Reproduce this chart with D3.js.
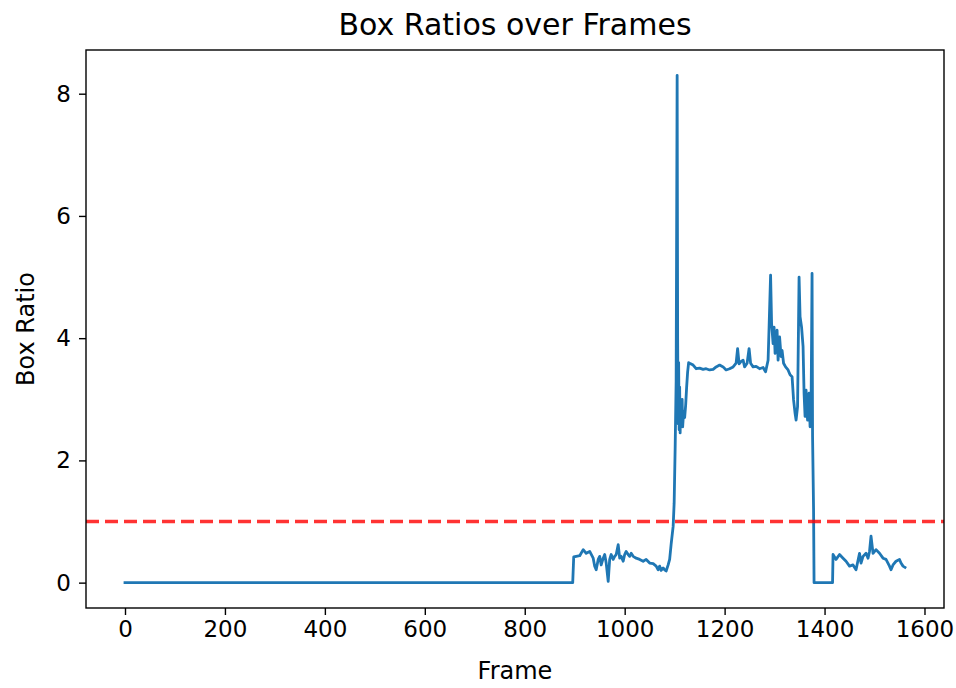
<!DOCTYPE html>
<html>
<head>
<meta charset="utf-8">
<script src="https://cdn.jsdelivr.net/npm/d3@7"></script>
<style>
  body { margin: 0; background: #fff; }
  text { font-family: "DejaVu Sans", sans-serif; fill: #000; }
</style>
</head>
<body>
<div id="chart"></div>
<script>
// Frame numbers (sampled where the curve changes) and the box ratio read at each
const frames = [0, 896, 898, 903, 910, 917, 923, 930, 937, 940, 943, 947, 950, 953, 957, 960, 963, 967, 970,
  973, 977, 980, 983, 987, 990, 993, 997, 1000, 1003, 1007, 1010, 1013, 1017, 1023, 1030, 1037, 1043, 1050,
  1057, 1063, 1067, 1070, 1073, 1077, 1080, 1083, 1087, 1090, 1093, 1097, 1099, 1101, 1103, 1105, 1106, 1107,
  1108, 1109, 1110, 1111, 1112, 1113, 1115, 1116, 1118, 1120, 1122, 1124, 1126, 1128,
  1130, 1137, 1143, 1150, 1157, 1163, 1170, 1177, 1183, 1190, 1197, 1203, 1210, 1217, 1223, 1226, 1229,
  1233, 1237, 1240, 1245, 1249, 1252, 1257, 1263, 1270, 1277, 1282, 1287, 1289, 1292, 1294, 1297, 1299,
  1301, 1305, 1307, 1310, 1313, 1315, 1318, 1322, 1327, 1331, 1335, 1338, 1341, 1343, 1346, 1349, 1351,
  1354, 1357, 1359, 1361, 1363, 1366, 1369, 1371, 1373, 1375, 1376, 1377, 1378, 1379, 1416, 1417, 1423,
  1430, 1437, 1443, 1450, 1457, 1463, 1470, 1473, 1477, 1483, 1487, 1490, 1493, 1497, 1503, 1510, 1517,
  1523, 1530, 1533, 1537, 1543, 1550, 1553, 1557, 1561];
const ratios = [0, 0, 0.42, 0.43, 0.44, 0.54, 0.48, 0.51, 0.40, 0.27, 0.21, 0.38, 0.43, 0.29, 0.40, 0.46, 0.32, 0.02, 0.38,
  0.46, 0.38, 0.43, 0.46, 0.62, 0.40, 0.43, 0.35, 0.46, 0.51, 0.46, 0.43, 0.48, 0.43, 0.40, 0.38, 0.35, 0.38, 0.32,
  0.31, 0.27, 0.21, 0.27, 0.20, 0.24, 0.21, 0.19, 0.29, 0.38, 0.63, 0.92, 1.3, 2.2, 3.3, 8.3, 4.0, 2.6,
  3.6, 2.5, 3.2, 2.45, 2.9, 2.6, 3.0, 2.55, 2.8, 2.7, 2.9, 3.2, 3.45, 3.6,
  3.59, 3.56, 3.50, 3.51, 3.49, 3.50, 3.48, 3.49, 3.53, 3.56, 3.53, 3.48, 3.50, 3.53, 3.59, 3.83, 3.58,
  3.62, 3.64, 3.53, 3.59, 3.83, 3.59, 3.53, 3.54, 3.50, 3.52, 3.45, 3.64, 4.18, 5.03, 4.24, 3.91, 4.18,
  3.75, 4.13, 3.64, 4.02, 3.70, 3.80, 3.59, 3.53, 3.48, 3.40, 3.37, 2.99, 2.77, 2.66, 2.88, 5.00, 4.35,
  4.18, 3.86, 3.10, 2.72, 3.15, 2.66, 3.10, 2.55, 2.82, 5.06, 2.4, 1.8, 1.2, 0, 0, 0.46, 0.38,
  0.46, 0.40, 0.35, 0.27, 0.29, 0.21, 0.48, 0.32, 0.43, 0.48, 0.40, 0.51, 0.76, 0.48, 0.54, 0.48, 0.40,
  0.38, 0.27, 0.21, 0.29, 0.35, 0.38, 0.32, 0.27, 0.25];
const threshold = 1;
const xTicks = [0, 200, 400, 600, 800, 1000, 1200, 1400, 1600];
const yTicks = [0, 2, 4, 6, 8];

const W = 956, H = 688;
const margin = { top: 50, right: 12, bottom: 80, left: 86 };

const svg = d3.select('#chart').append('svg')
    .attr('width', W)
    .attr('height', H);

const data = frames.map((f, i) => ({ frame: f, ratio: ratios[i] }));

// matplotlib-style 5% padding around the data range
const xMax = d3.max(frames), yMax = d3.max(ratios);
const xPad = xMax * 0.05, yPad = yMax * 0.05;

const x = d3.scaleLinear()
    .domain([-xPad, xMax + xPad])
    .range([margin.left, W - margin.right]);

const y = d3.scaleLinear()
    .domain([-yPad, yMax + yPad])
    .range([H - margin.bottom, margin.top]);

// Data line
const line = d3.line()
    .x(d => x(d.frame))
    .y(d => y(d.ratio));

svg.append('path')
    .datum(data)
    .attr('fill', 'none')
    .attr('stroke', '#1f77b4')
    .attr('stroke-width', 2.8)
    .attr('stroke-linejoin', 'round')
    .attr('stroke-linecap', 'square')
    .attr('d', line);

// Threshold line
svg.append('line')
    .attr('x1', margin.left)
    .attr('x2', W - margin.right)
    .attr('y1', y(threshold))
    .attr('y2', y(threshold))
    .attr('stroke', 'red')
    .attr('stroke-opacity', 0.8)
    .attr('stroke-width', 3.3)
    .attr('stroke-dasharray', '13,6');

// Axes
const xAxis = svg.append('g')
    .attr('transform', `translate(0,${H - margin.bottom})`)
    .call(d3.axisBottom(x).tickValues(xTicks).tickSize(7).tickPadding(6).tickFormat(d3.format('d')));

const yAxis = svg.append('g')
    .attr('transform', `translate(${margin.left},0)`)
    .call(d3.axisLeft(y).tickValues(yTicks).tickSize(7).tickPadding(8).tickFormat(d3.format('d')));

[xAxis, yAxis].forEach(g => {
    g.select('.domain').remove();
    g.selectAll('line').attr('stroke', '#000').attr('stroke-width', 1.4);
    g.selectAll('text').style('font-size', '23px').attr('fill', '#000');
});

// Frame box
svg.append('rect')
    .attr('x', margin.left)
    .attr('y', margin.top)
    .attr('width', W - margin.right - margin.left)
    .attr('height', H - margin.bottom - margin.top)
    .attr('fill', 'none')
    .attr('stroke', '#000')
    .attr('stroke-width', 1.4);

// Labels
svg.append('text')
    .attr('x', (margin.left + W - margin.right) / 2)
    .attr('y', 35)
    .attr('text-anchor', 'middle')
    .style('font-size', '30px')
    .text('Box Ratios over Frames');

svg.append('text')
    .attr('x', (margin.left + W - margin.right) / 2)
    .attr('y', 679)
    .attr('text-anchor', 'middle')
    .style('font-size', '24px')
    .text('Frame');

svg.append('text')
    .attr('transform', `translate(34,${(margin.top + H - margin.bottom) / 2}) rotate(-90)`)
    .attr('text-anchor', 'middle')
    .style('font-size', '24px')
    .text('Box Ratio');
</script>
</body>
</html>
